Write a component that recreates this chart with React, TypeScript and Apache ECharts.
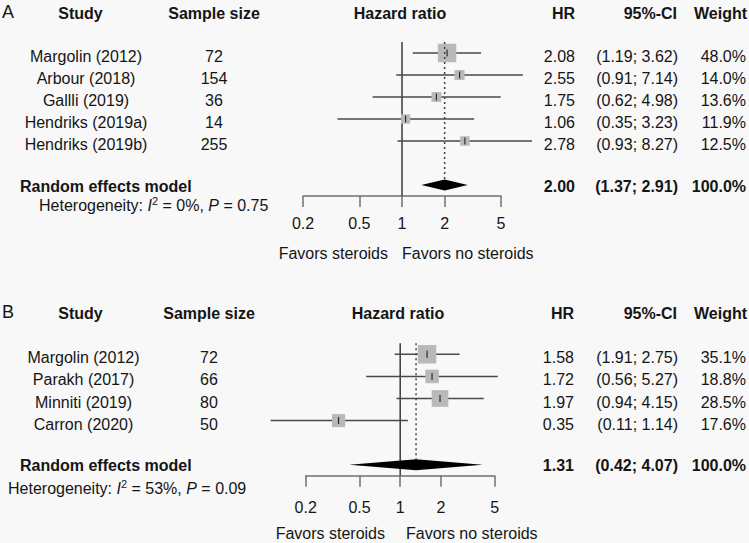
import React, { useEffect, useRef } from 'react';
import * as echarts from 'echarts';

// ---------- Data: panel A ----------
const studiesA = ['Margolin (2012)', 'Arbour (2018)', 'Gallli (2019)', 'Hendriks (2019a)', 'Hendriks (2019b)'];
const sampleA = [72, 154, 36, 14, 255];
const hrA = [2.08, 2.55, 1.75, 1.06, 2.78];
const lowA = [1.19, 0.91, 0.62, 0.35, 0.93];
const highA = [3.62, 7.14, 4.98, 3.23, 8.27];
const lowPrintedA = [1.19, 0.91, 0.62, 0.35, 0.93];
const weightA = [48.0, 14.0, 13.6, 11.9, 12.5];
const pooledA = [2.0, 1.37, 2.91];
const hetA = ['0%', '0.75'];

// ---------- Data: panel B ----------
const studiesB = ['Margolin (2012)', 'Parakh (2017)', 'Minniti (2019)', 'Carron (2020)'];
const sampleB = [72, 66, 80, 50];
const hrB = [1.58, 1.72, 1.97, 0.35];
const lowB = [0.91, 0.56, 0.94, 0.11];
const highB = [2.75, 5.27, 4.15, 1.14];
const lowPrintedB = [1.91, 0.56, 0.94, 0.11];
const weightB = [35.1, 18.8, 28.5, 17.6];
const pooledB = [1.31, 0.42, 4.07];
const hetB = ['53%', '0.09'];

const tickValues = [0.2, 0.5, 1, 2, 5];
const axisMin = 0.2;
const axisMax = 5;

// ---------- Styling / layout ----------
const FONT = "'Liberation Sans', Arial, Helvetica, sans-serif";
const TEXT = '#151515';
const BG = '#f8f8f8';
const SQUARE = '#b9b9b9';
const CI_LINE = '#4a4a4a';
const AXIS = '#707070';
const MAXSIDE = 18.5;

const layoutA = {
  row0: 53, rowH: 22, gridLeft: 303, gridWidth: 198, headerY: 13.5,
  studyX: 86, sampleX: 214, hazardX: 400, hrX: 575, ciX: 678, wX: 746,
  hetX: 39, hetY: 205, favorsY: 253, favLeftEnd: 388, favRightStart: 402,
  labelMargin: 19, textOff: 3.5, remOff: 1,
};
const layoutB = {
  row0: 354.3, rowH: 22.1, gridLeft: 305.7, gridWidth: 189, headerY: 313,
  studyX: 83.5, sampleX: 209, hazardX: 398, hrX: 574, ciX: 678, wX: 746,
  hetX: 8, hetY: 488, favorsY: 533, favLeftEnd: 385, favRightStart: 406,
  labelMargin: 24, textOff: 3.5, remOff: 1,
};

const panels = [
  { letter: 'A', studies: studiesA, sample: sampleA, hr: hrA, low: lowA, high: highA, lowPrinted: lowPrintedA, weight: weightA, pooled: pooledA, het: hetA, L: layoutA },
  { letter: 'B', studies: studiesB, sample: sampleB, hr: hrB, low: lowB, high: highB, lowPrinted: lowPrintedB, weight: weightB, pooled: pooledB, het: hetB, L: layoutB },
];

const lg = (v: number) => Math.log10(v);

function txt(x: number, y: number, text: string, align: string, opts: any = {}) {
  return {
    type: 'text',
    x,
    y,
    silent: true,
    style: {
      text,
      align,
      verticalAlign: 'middle',
      fontFamily: FONT,
      fontSize: opts.fontSize || 16,
      fontWeight: opts.bold ? 'bold' : 'normal',
      fill: TEXT,
      ...(opts.rich ? { rich: opts.rich } : {}),
    },
  };
}

function buildOption() {
  const grids: any[] = [];
  const xAxes: any[] = [];
  const yAxes: any[] = [];
  const series: any[] = [];
  const graphic: any[] = [];

  panels.forEach((p, gi) => {
    const L = p.L;
    const n = p.studies.length;
    const remRow = n + 1;
    grids.push({
      left: L.gridLeft,
      width: L.gridWidth,
      top: L.row0 - L.rowH / 2,
      height: L.rowH * (remRow + 1),
      containLabel: false,
    });
    xAxes.push({
      type: 'value',
      gridIndex: gi,
      min: lg(axisMin),
      max: lg(axisMax),
      position: 'bottom',
      axisLine: { show: true, onZero: false, lineStyle: { color: AXIS, width: 1.5 } },
      axisTick: { show: true, length: 11, customValues: tickValues.map(lg), lineStyle: { color: AXIS, width: 1.5 } },
      axisLabel: {
        show: true,
        customValues: tickValues.map(lg),
        margin: L.labelMargin,
        fontSize: 16,
        fontFamily: FONT,
        color: TEXT,
        formatter: (v: number) => String(+Math.pow(10, v).toPrecision(1)),
      },
      splitLine: { show: false },
    });
    yAxes.push({
      type: 'value',
      gridIndex: gi,
      inverse: true,
      min: -0.5,
      max: remRow + 0.5,
      show: false,
    });

    const maxW = Math.max(...p.weight);

    // reference line at HR = 1
    series.push({
      type: 'custom',
      xAxisIndex: gi,
      yAxisIndex: gi,
      z: 1,
      clip: false,
      data: [[lg(1), -0.5, remRow + 0.5]],
      renderItem: (params: any, api: any) => {
        const a = api.coord([api.value(0), api.value(1)]);
        const b = api.coord([api.value(0), api.value(2)]);
        return { type: 'line', shape: { x1: a[0], y1: a[1], x2: b[0], y2: b[1] }, style: { stroke: '#3a3a3a', lineWidth: 1.5 } };
      },
    });

    // study rows
    series.push({
      type: 'custom',
      xAxisIndex: gi,
      yAxisIndex: gi,
      z: 2,
      clip: false,
      encode: { x: [0, 1, 2], y: 4 },
      data: p.hr.map((h, i) => [lg(h), lg(p.low[i]), lg(p.high[i]), MAXSIDE * Math.sqrt(p.weight[i] / maxW), i]),
      renderItem: (params: any, api: any) => {
        const row = api.value(4);
        const c = api.coord([api.value(0), row]);
        const l = api.coord([api.value(1), row]);
        const h = api.coord([api.value(2), row]);
        const side = api.value(3);
        return {
          type: 'group',
          children: [
            { type: 'line', shape: { x1: l[0], y1: c[1], x2: h[0], y2: c[1] }, style: { stroke: CI_LINE, lineWidth: 1.5 } },
            { type: 'rect', shape: { x: c[0] - side / 2, y: c[1] - side / 2, width: side, height: side }, style: { fill: SQUARE } },
            { type: 'line', shape: { x1: c[0], y1: c[1] - 3.5, x2: c[0], y2: c[1] + 3.5 }, style: { stroke: '#2a2a2a', lineWidth: 1.2 } },
          ],
        };
      },
    });

    // pooled diamond + dotted line
    series.push({
      type: 'custom',
      xAxisIndex: gi,
      yAxisIndex: gi,
      z: 3,
      clip: false,
      encode: { x: [0, 1, 2], y: 3 },
      data: [[lg(p.pooled[0]), lg(p.pooled[1]), lg(p.pooled[2]), remRow]],
      renderItem: (params: any, api: any) => {
        const row = api.value(3);
        const c = api.coord([api.value(0), row]);
        const l = api.coord([api.value(1), row]);
        const h = api.coord([api.value(2), row]);
        const top = api.coord([api.value(0), -0.5]);
        const hh = 5.5;
        return {
          type: 'group',
          children: [
            { type: 'line', shape: { x1: c[0], y1: top[1], x2: c[0], y2: c[1] - hh }, style: { stroke: '#444', lineWidth: 1.5, lineDash: [2, 3] } },
            { type: 'polygon', shape: { points: [[l[0], c[1]], [c[0], c[1] - hh], [h[0], c[1]], [c[0], c[1] + hh]] }, style: { fill: '#000' } },
          ],
        };
      },
    });

    // ---------- texts ----------
    const hy = L.headerY;
    graphic.push(txt(2, hy - 1.5, p.letter, 'left', { fontSize: 18 }));
    graphic.push(txt(80.5, hy, 'Study', 'center', { bold: true }));
    graphic.push(txt(L.sampleX, hy, 'Sample size', 'center', { bold: true }));
    graphic.push(txt(L.hazardX, hy, 'Hazard ratio', 'center', { bold: true }));
    graphic.push(txt(L.hrX, hy, 'HR', 'right', { bold: true }));
    graphic.push(txt(677, hy, '95%-CI', 'right', { bold: true }));
    graphic.push(txt(747, hy, 'Weight', 'right', { bold: true }));

    p.studies.forEach((s, i) => {
      const y = L.row0 + i * L.rowH + L.textOff;
      graphic.push(txt(L.studyX, y, s, 'center'));
      graphic.push(txt(L.sampleX, y, String(p.sample[i]), 'center'));
      graphic.push(txt(L.hrX, y, p.hr[i].toFixed(2), 'right'));
      graphic.push(txt(L.ciX, y, `(${p.lowPrinted[i].toFixed(2)}; ${p.high[i].toFixed(2)})`, 'right'));
      graphic.push(txt(L.wX, y, `${p.weight[i].toFixed(1)}%`, 'right'));
    });

    const ry = L.row0 + remRow * L.rowH + L.remOff;
    const totalW = p.weight.reduce((a, b) => a + b, 0);
    graphic.push(txt(20, ry, 'Random effects model', 'left', { bold: true }));
    graphic.push(txt(L.hrX, ry, p.pooled[0].toFixed(2), 'right', { bold: true }));
    graphic.push(txt(L.ciX, ry, `(${p.pooled[1].toFixed(2)}; ${p.pooled[2].toFixed(2)})`, 'right', { bold: true }));
    graphic.push(txt(L.wX, ry, `${Math.round(totalW).toFixed(1)}%`, 'right', { bold: true }));

    graphic.push(
      txt(L.hetX, L.hetY, `Heterogeneity: {i|I}{sup|2} = ${p.het[0]}, {i|P} = ${p.het[1]}`, 'left', {
        rich: {
          i: { fontStyle: 'italic', fontFamily: FONT, fontSize: 16, fill: TEXT, lineHeight: 20 },
          sup: { fontFamily: FONT, fontSize: 11, fill: TEXT, verticalAlign: 'top', lineHeight: 14 },
        },
      })
    );

    graphic.push(txt(L.favLeftEnd, L.favorsY, 'Favors steroids', 'right'));
    graphic.push(txt(L.favRightStart, L.favorsY, 'Favors no steroids', 'left'));
  });

  return {
    animation: false,
    backgroundColor: BG,
    grid: grids,
    xAxis: xAxes,
    yAxis: yAxes,
    series,
    graphic: { elements: graphic },
  };
}

export default function App() {
  const ref = useRef<HTMLDivElement>(null);
  useEffect(() => {
    if (!ref.current) return;
    const chart = echarts.init(ref.current, undefined, { renderer: 'svg' });
    chart.setOption(buildOption() as any);
    return () => chart.dispose();
  }, []);
  return <div ref={ref} style={{ position: 'absolute', left: 0, top: 0, width: 749, height: 543 }} />;
}
